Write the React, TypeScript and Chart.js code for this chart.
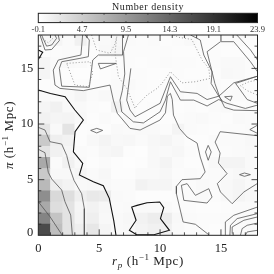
import React, { useEffect, useRef } from "react";
import { Chart, registerables } from "chart.js";

Chart.register(...registerables);

type Pt = number[];

const cbarTicks = [-0.1, 4.7, 9.5, 14.3, 19.1, 23.9];
const cbarMin = -0.1;
const cbarMax = 23.9;
const xTicks = [0, 5, 10, 15];
const yTicks = [5, 10, 15];
const yBaseLabel = 0;

// density per cell, rows bottom to top
const density: number[][] = [
  [16.9, 6.0, 2.5, 1.4, 2.2, 0.8, 0.5, 0.6, 0.9, 1.2, 1.2, 0.5, 0.3, 0.3, 0.2, 0.3, 0.3, 0.4],
  [11.5, 5.5, 2.5, 0.9, 1.4, 0.6, 0.5, 0.7, 1.1, 1.6, 1.6, 0.6, 0.4, 0.3, 0.3, 0.4, 0.4, 0.4],
  [8.0, 3.0, 2.5, 0.8, 1.1, 0.7, 0.4, 0.5, 0.5, 0.5, 0.5, 0.3, 0.3, 0.2, 0.2, 0.3, 0.4, 0.4],
  [10.5, 3.5, 3.0, 1.4, 2.0, 1.8, 0.5, 0.4, 0.2, 0.2, 0.2, 0.3, 0.4, 0.5, 0.3, 0.6, 0.8, 0.6],
  [6.5, 1.5, 1.0, 0.5, 0.6, 0.6, 0.4, 0.4, 1.1, 0.8, 0.8, 0.4, 0.3, 0.5, 0.4, 0.6, 0.8, 0.5],
  [5.0, 0.6, 0.6, 0.8, 0.4, 0.7, 0.2, 0.2, 0.5, 0.5, 0.7, 0.3, 0.4, 0.3, 0.4, 0.5, 0.7, 0.5],
  [8.0, 0.4, 1.2, 0.5, 0.2, 0.4, 0.2, 0.1, 0.2, 0.6, 0.9, 0.4, 0.2, 0.2, 0.6, 0.9, 0.9, 0.5],
  [2.5, 1.2, 0.8, 0.4, 0.3, 0.7, 0.8, 0.2, 0.1, 0.6, 0.5, 0.7, 0.3, 0.2, 0.3, 0.3, 0.4, 0.5],
  [5.0, 1.4, 1.1, 0.2, 0.6, 0.9, 0.6, 0.7, 0.4, 0.7, 0.8, 0.5, 0.2, 0.2, 0.4, 0.4, 0.4, 0.6],
  [2.3, 0.5, 2.4, 0.2, 0.3, 0.2, 0.5, 0.4, 0.5, 0.5, 0.3, 0.9, 0.4, 0.3, 0.2, 0.3, 0.3, 0.4],
  [1.1, 0.8, 0.9, 0.6, 0.2, 0.4, 0.2, 0.5, 0.3, 0.2, 0.2, 0.3, 0.4, 0.5, 0.3, 0.2, 0.5, 0.4],
  [0.8, 1.2, 0.5, 0.5, 0.3, 0.2, 1.1, 0.4, 0.2, 0.3, 0.4, 0.2, 0.3, 0.2, 0.4, 0.5, 0.2, 0.3],
  [0.5, 0.4, 0.5, 0.8, 0.4, 0.6, 0.5, 0.3, 0.2, 0.2, 0.3, 0.4, 0.2, 0.3, 0.2, 0.3, 0.4, 0.3],
  [0.2, 0.3, 0.2, 0.2, 0.2, 0.2, 0.4, 0.5, 0.3, 0.2, 0.2, 0.2, 0.3, 0.4, 0.3, 0.2, 0.3, 0.2],
  [0.8, 0.3, 0.2, 0.1, 0.1, 0.2, 0.3, 0.3, 0.3, 0.2, 0.2, 0.3, 0.2, 0.2, 0.2, 0.6, 0.5, 0.3],
  [0.8, 0.4, 0.5, 0.4, 0.2, 0.2, 0.2, 0.3, 0.2, 0.3, 0.4, 0.3, 0.3, 0.2, 0.3, 0.5, 0.5, 0.3],
  [0.3, 0.3, 0.4, 0.4, 0.2, 0.6, 0.8, 0.3, 0.3, 0.3, 0.3, 0.2, 0.2, 0.3, 0.3, 0.2, 0.2, 0.2],
  [0.6, 0.8, 0.4, 1.2, 0.4, 0.5, 0.7, 0.4, 0.3, 0.4, 0.2, 0.3, 0.5, 0.3, 0.3, 0.3, 0.4, 0.3],
];

// contours, black (heavy)
const heavyA: Pt[] = [[0, 13.05], [1, 12.75], [2.2, 12.45], [3, 11.26], [3.7, 10.36], [3.02, 9.31], [2.88, 7.51], [3.65, 6.47], [3.37, 5.42], [4.52, 4.82], [5.34, 4.45], [5.83, 3.32], [6.2, 1.3], [6.38, 0]];
const heavyB: Pt[] = [[8.11, 2.69], [7.67, 2.54], [8.03, 1.35], [7.48, 0.45], [8.08, 0.05], [9.5, 0.05], [10.77, 0.45], [10.03, 1.5], [10.3, 2.49], [9.97, 2.99], [8.93, 2.93], [8.11, 2.69]];
const heavyC: Pt[] = [[0, 16.65], [0.36, 16.45], [0, 15.8]];

// contours, dark grey
const lowA: Pt[] = [[0, 3.02], [0.96, 1.67], [1.97, 0]];
const lowB: Pt[] = [[0, 7.73], [0.55, 7.42], [0.82, 5.66], [1.1, 5.06], [1.92, 4.07], [2.19, 3.02], [2.66, 1.82], [2.8, 0]];
const lowC: Pt[] = [[0, 9.7], [0.55, 9.46], [0.96, 8.41], [1.92, 8.2], [2.33, 7.18], [2.6, 5.99], [2.93, 4.94], [3.56, 3.74], [3.78, 2.4], [3.78, 0]];
const diamondA: Pt[] = [[4.3, 9.43], [4.8, 9.61], [5.29, 9.43], [4.8, 9.2], [4.3, 9.43]];
const diamondB: Pt[] = [[13.73, 7.49], [13.95, 8.08], [14.2, 7.49], [13.95, 6.74], [13.73, 7.49]];
const ellipse: Pt[] = [[16.52, 5.45], [16.93, 5.6], [17.42, 5.45], [16.93, 5.3], [16.52, 5.45]];
const ridgeI: Pt[] = [[3.64, 18], [3.5, 16.2], [1.64, 15.75], [1.23, 14.85], [1.37, 13.5], [1.78, 13.2], [3.7, 13], [5.89, 13.5], [6.16, 12.15], [6.49, 10.96], [7.53, 9.61], [8.36, 9.46], [10, 10.36], [10.44, 11], [10.6, 12.5], [10.85, 12.75], [11, 12.2], [11.1, 10.8], [11.6, 9.6], [12.22, 8.83], [13.04, 8.29], [13.3, 7.03], [13.7, 5.69], [13.3, 5.09], [11.8, 5], [11.34, 4.4], [11.34, 3.74], [11.89, 1.2], [12.9, 0.99], [14, 0.05]];
const ridgeII: Pt[] = [[7.4, 18], [7.0, 16.5], [7.1, 14.5], [6.9, 13], [6.71, 12.15], [6.85, 11.1], [7.8, 10.2], [8.63, 10.1], [10, 11.1], [10.44, 12.15], [10.85, 13.8], [11.67, 12.15], [12.77, 12.15], [13.86, 11.62], [14.82, 12.2], [15.5, 11.86], [17, 11.4], [18, 11.7]];
const ridgeIII: Pt[] = [[7.6, 15], [7.26, 12.15], [7.53, 11.26], [7.95, 10.65], [10, 11.86], [10.85, 14.25], [11.67, 12.9], [13.04, 12.75], [13.86, 12.2], [14.82, 12.5], [16.05, 13.7], [18, 14.3]];
const ringTwo: Pt[] = [[3.84, 18], [4.19, 17.55], [4.11, 16.05], [3.42, 15.9], [1.92, 15.6], [1.73, 15], [1.92, 13.4], [4.19, 13.3], [4.47, 15.75], [4.93, 16.2], [6.93, 16.2], [6.93, 17.85], [6.9, 18]];
const sliver: Pt[] = [[4.93, 15.45], [6.4, 15.45], [5.1, 14.95], [4.93, 15.45]];
const cornerOne: Pt[] = [[0.14, 18], [0.55, 16.65], [1.1, 16.7], [1.73, 17.5], [1.64, 18]];
const cornerTwo: Pt[] = [[0.27, 18], [0.68, 17], [1.1, 17.1], [1.5, 17.7], [1.37, 18]];
const ridgeTop: Pt[] = [[12.5, 18], [13.3, 17.55], [13.59, 16.2], [14.27, 14.7], [14.19, 13.65], [14.82, 12.5], [15.1, 12.1]];
const loopTop: Pt[] = [[18, 14.7], [17.42, 15.6], [16.05, 17.4], [14.96, 17.4], [13.86, 16.5], [14.5, 13.65], [14.9, 12.4], [15.3, 11.5], [16.05, 11.25], [18, 11.2]];
const edgeTop: Pt[] = [[16.3, 18], [17.43, 16.65], [18, 15.75]];
const edgeMid: Pt[] = [[18, 14.3], [16.2, 13.65], [17.15, 12.2], [18, 11.85]];
const triA: Pt[] = [[15.3, 12.45], [15.92, 12.5], [15.78, 12.1], [15.3, 12.45]];
const triB: Pt[] = [[18, 9.9], [17.37, 9.5], [18, 9.16]];
const lobeE: Pt[] = [[18, 8.95], [14.93, 9.31], [14.52, 8.38], [14.93, 7.39], [14.79, 6.5], [15.5, 5.54], [14.7, 4.64], [14.96, 3.89], [15.92, 2.84], [16.88, 3.89], [17.97, 4.64]];
const lobeF: Pt[] = [[11.75, 4.49], [12.22, 4.64], [12.9, 3.59], [14, 4.19], [14.27, 3.44], [13.86, 2.9], [11.95, 3.14], [11.75, 4.49]];
const arcA: Pt[] = [[15.36, 0], [15.36, 1.2], [16.05, 1.8], [18, 2.54]];
const arcB: Pt[] = [[15.73, 0], [15.78, 0.9], [16.33, 1.5], [18, 1.95]];
const arcC: Pt[] = [[15.92, 0.15], [15.92, 0.75], [16.88, 1.35], [18, 1.65]];
const arcD: Pt[] = [[16.6, 0], [16.74, 0.6], [17.15, 0.9], [18, 1.1]];
const arcE: Pt[] = [[17, 0], [17.15, 0.3], [18, 0.45]];

// contours, dotted
const dotLong: Pt[] = [[6.44, 17.85], [6.3, 16.35], [6.58, 14.25], [7.26, 13.2], [7.67, 12.15], [7.95, 11.41], [8.11, 11.7], [8.93, 12.6], [9.75, 13.2], [10.16, 13.65], [10.85, 14.7], [11.8, 13.7], [12.9, 13.8], [14.1, 14.1], [14, 15], [13.45, 15.75], [12.9, 16.95], [12.6, 17.6], [11.5, 17.8], [11.1, 18]];
const dotTop: Pt[] = [[4.38, 18], [4.79, 16.65], [5.89, 16.35], [6.3, 17.2], [6.44, 17.85]];
const dotRing: Pt[] = [[2.33, 15.45], [4.25, 15.6], [4.47, 14.55], [4.11, 13.35], [3.01, 13.5], [2.33, 15.45]];
const dotCorner: Pt[] = [[0.14, 17.8], [0.82, 17.3], [1.29, 17.8]];
const dotRight: Pt[] = [[18, 13.95], [17.3, 13.8], [16.6, 13.45], [17.15, 13], [18, 12.6]];

const heavy = [heavyA, heavyB, heavyC];
const grey = [lowA, lowB, lowC, diamondA, diamondB, ellipse, ridgeI, ridgeII, ridgeIII, ringTwo, sliver, cornerOne, cornerTwo, ridgeTop, loopTop, edgeTop, edgeMid, triA, triB, lobeE, lobeF, arcA, arcB, arcC, arcD, arcE];
const dotted = [dotLong, dotTop, dotRing, dotCorner, dotRight];

const grayOf = (v: number) => {
  const t = Math.min(1, Math.max(0, (v - cbarMin) / (cbarMax - cbarMin)));
  const g = Math.round(255 * (1 - t));
  return `rgb(${g},${g},${g})`;
};

const SERIF = "'Liberation Serif', serif";

const line = (pts: Pt[], color: string, width: number, dash: number[] = []) => ({
  type: "scatter" as const,
  data: pts.map(([x, y]) => ({ x, y })),
  showLine: true,
  borderColor: color,
  borderWidth: width,
  borderDash: dash,
  pointRadius: 0,
  tension: 0,
  order: 1,
});

const frameTicks = {
  id: "frameTicks",
  afterDraw(chart: any) {
    const { ctx, chartArea: a, scales } = chart;
    ctx.save();
    ctx.strokeStyle = "#222";
    ctx.lineWidth = 1;
    ctx.strokeRect(a.left, a.top, a.right - a.left, a.bottom - a.top);
    ctx.lineWidth = 0.8;
    ctx.beginPath();
    for (let i = 1; i < 18; i++) {
      const l = i % 5 === 0 ? 6 : 3;
      const px = scales.x.getPixelForValue(i);
      const py = scales.y.getPixelForValue(i);
      ctx.moveTo(px, a.bottom);
      ctx.lineTo(px, a.bottom - l);
      ctx.moveTo(px, a.top);
      ctx.lineTo(px, a.top + l);
      ctx.moveTo(a.left, py);
      ctx.lineTo(a.left + l, py);
      ctx.moveTo(a.right, py);
      ctx.lineTo(a.right - l, py);
    }
    ctx.stroke();

    const drawParts = (parts: [string, string, number][]) => {
      let w = 0;
      for (const [t, f] of parts) {
        ctx.font = f;
        w += ctx.measureText(t).width;
      }
      let x = -w / 2;
      for (const [t, f, dy] of parts) {
        ctx.font = f;
        ctx.fillText(t, x, dy);
        x += ctx.measureText(t).width;
      }
    };
    ctx.fillStyle = "#222";

    // the zero label of the y axis sits a little above its tick
    ctx.textBaseline = "middle";
    ctx.textAlign = "right";
    ctx.font = `12.5px ${SERIF}`;
    ctx.fillText(String(yBaseLabel), a.left - 5, scales.y.getPixelForValue(yBaseLabel) - 3);

    ctx.textBaseline = "alphabetic";
    ctx.textAlign = "left";
    (ctx as any).letterSpacing = "0.6px";
    ctx.save();
    ctx.translate(148, 265);
    drawParts([
      ["r", `italic 13px ${SERIF}`, 0],
      ["p", `italic 9px ${SERIF}`, 3],
      [" (h", `13px ${SERIF}`, 0],
      ["\u22121", `9px ${SERIF}`, -5],
      [" Mpc)", `13px ${SERIF}`, 0],
    ]);
    ctx.restore();
    ctx.save();
    ctx.translate(13, 135);
    ctx.rotate(-Math.PI / 2);
    drawParts([
      ["\u03c0", `italic 13px ${SERIF}`, 0],
      [" (h", `13px ${SERIF}`, 0],
      ["\u22121", `9px ${SERIF}`, -5],
      [" Mpc)", `13px ${SERIF}`, 0],
    ]);
    ctx.restore();
    ctx.restore();
  },
};

const cbarDecor = {
  id: "cbarDecor",
  afterDraw(chart: any) {
    const { ctx, chartArea: a, scales } = chart;
    ctx.save();
    ctx.strokeStyle = "#222";
    ctx.lineWidth = 1;
    ctx.strokeRect(a.left, a.top, a.right - a.left, a.bottom - a.top);
    ctx.lineWidth = 0.7;
    ctx.beginPath();
    for (let v = cbarMin + 2.4; v < cbarMax - 0.1; v += 2.4) {
      const px = scales.x.getPixelForValue(v);
      ctx.moveTo(px, a.top);
      ctx.lineTo(px, a.top + 1.5);
      ctx.moveTo(px, a.bottom);
      ctx.lineTo(px, a.bottom - 1.5);
    }
    ctx.stroke();
    ctx.fillStyle = "#222";
    ctx.textAlign = "center";
    ctx.textBaseline = "alphabetic";
    ctx.font = `10px ${SERIF}`;
    (ctx as any).letterSpacing = "0.55px";
    ctx.fillText("Number density", 148, 10);
    ctx.restore();
  },
};

export default function App() {
  const mainRef = useRef<HTMLCanvasElement>(null);
  const cbarRef = useRef<HTMLCanvasElement>(null);

  useEffect(() => {
    document.body.style.margin = "0";

    const cellSets = density.map((row, r) => ({
      type: "bar" as const,
      data: row.map((v, c) => ({ x: c + 0.5, y: [r, r + 1] })),
      backgroundColor: row.map((v) => grayOf(v)),
      barPercentage: 1,
      categoryPercentage: 1,
      grouped: false,
      borderWidth: 0,
      order: 2,
    }));

    const main = new Chart(mainRef.current!, {
      data: {
        datasets: [
          ...cellSets,
          ...dotted.map((p) => line(p, "#8c8c8c", 0.9, [1, 2])),
          ...grey.map((p) => line(p, "#555", 0.8)),
          ...heavy.map((p) => line(p, "#111", 1.1)),
        ] as any,
      },
      options: {
        responsive: false,
        animation: false,
        layout: { padding: { top: 35, right: 16.5, left: 0, bottom: 0 } },
        plugins: { legend: { display: false }, tooltip: { enabled: false } },
        scales: {
          x: {
            type: "linear",
            min: 0,
            max: 18,
            offset: false,
            grid: { display: false, drawTicks: false },
            border: { display: false },
            ticks: {
              color: "#222",
              padding: 6,
              maxRotation: 0,
              font: { family: SERIF, size: 12.5 },
              callback: (v: any) => (xTicks.includes(Number(v)) ? String(v) : null),
              stepSize: 5,
            },
            afterFit: (s: any) => {
              s.height = 38.7;
            },
          },
          y: {
            type: "linear",
            min: 0,
            max: 18,
            grid: { display: false, drawTicks: false },
            border: { display: false },
            ticks: {
              color: "#222",
              padding: 5,
              font: { family: SERIF, size: 12.5 },
              callback: (v: any) => (yTicks.includes(Number(v)) ? String(v) : null),
              stepSize: 5,
            },
            afterFit: (s: any) => {
              s.width = 38.3;
            },
          },
        },
      } as any,
      plugins: [frameTicks],
    });

    const cbar = new Chart(cbarRef.current!, {
      type: "bar",
      data: {
        labels: ["density"],
        datasets: [
          {
            data: [[cbarMin, cbarMax]],
            barPercentage: 1,
            categoryPercentage: 1,
            borderWidth: 0,
            backgroundColor: (c: any) => {
              const a = c.chart.chartArea;
              if (!a) return "#888";
              const g = c.chart.ctx.createLinearGradient(a.left, 0, a.right, 0);
              g.addColorStop(0, "#fff");
              g.addColorStop(1, "#000");
              return g;
            },
          },
        ] as any,
      },
      options: {
        indexAxis: "y",
        responsive: false,
        animation: false,
        layout: { padding: { top: 13.3, left: 38.3, right: 16.5, bottom: 0 } },
        plugins: { legend: { display: false }, tooltip: { enabled: false } },
        scales: {
          x: {
            type: "linear",
            min: cbarMin,
            max: cbarMax,
            grid: { display: false, drawTicks: false },
            border: { display: false },
            afterBuildTicks: (s: any) => {
              s.ticks = cbarTicks.map((value) => ({ value }));
            },
            ticks: {
              color: "#333",
              padding: 2,
              maxRotation: 0,
              autoSkip: false,
              font: { family: SERIF, size: 8.5 },
              callback: (v: any) => Number(v).toFixed(1),
            },
            afterFit: (s: any) => {
              s.height = 12.4;
            },
          },
          y: { display: false },
        },
      } as any,
      plugins: [cbarDecor],
    });

    return () => {
      main.destroy();
      cbar.destroy();
    };
  }, []);

  return (
    <div style={{ position: "relative", width: 274, height: 274 }}>
      <canvas ref={mainRef} width={274} height={274} style={{ position: "absolute", left: 0, top: 0 }} />
      <canvas ref={cbarRef} width={274} height={35} style={{ position: "absolute", left: 0, top: 0 }} />
    </div>
  );
}
